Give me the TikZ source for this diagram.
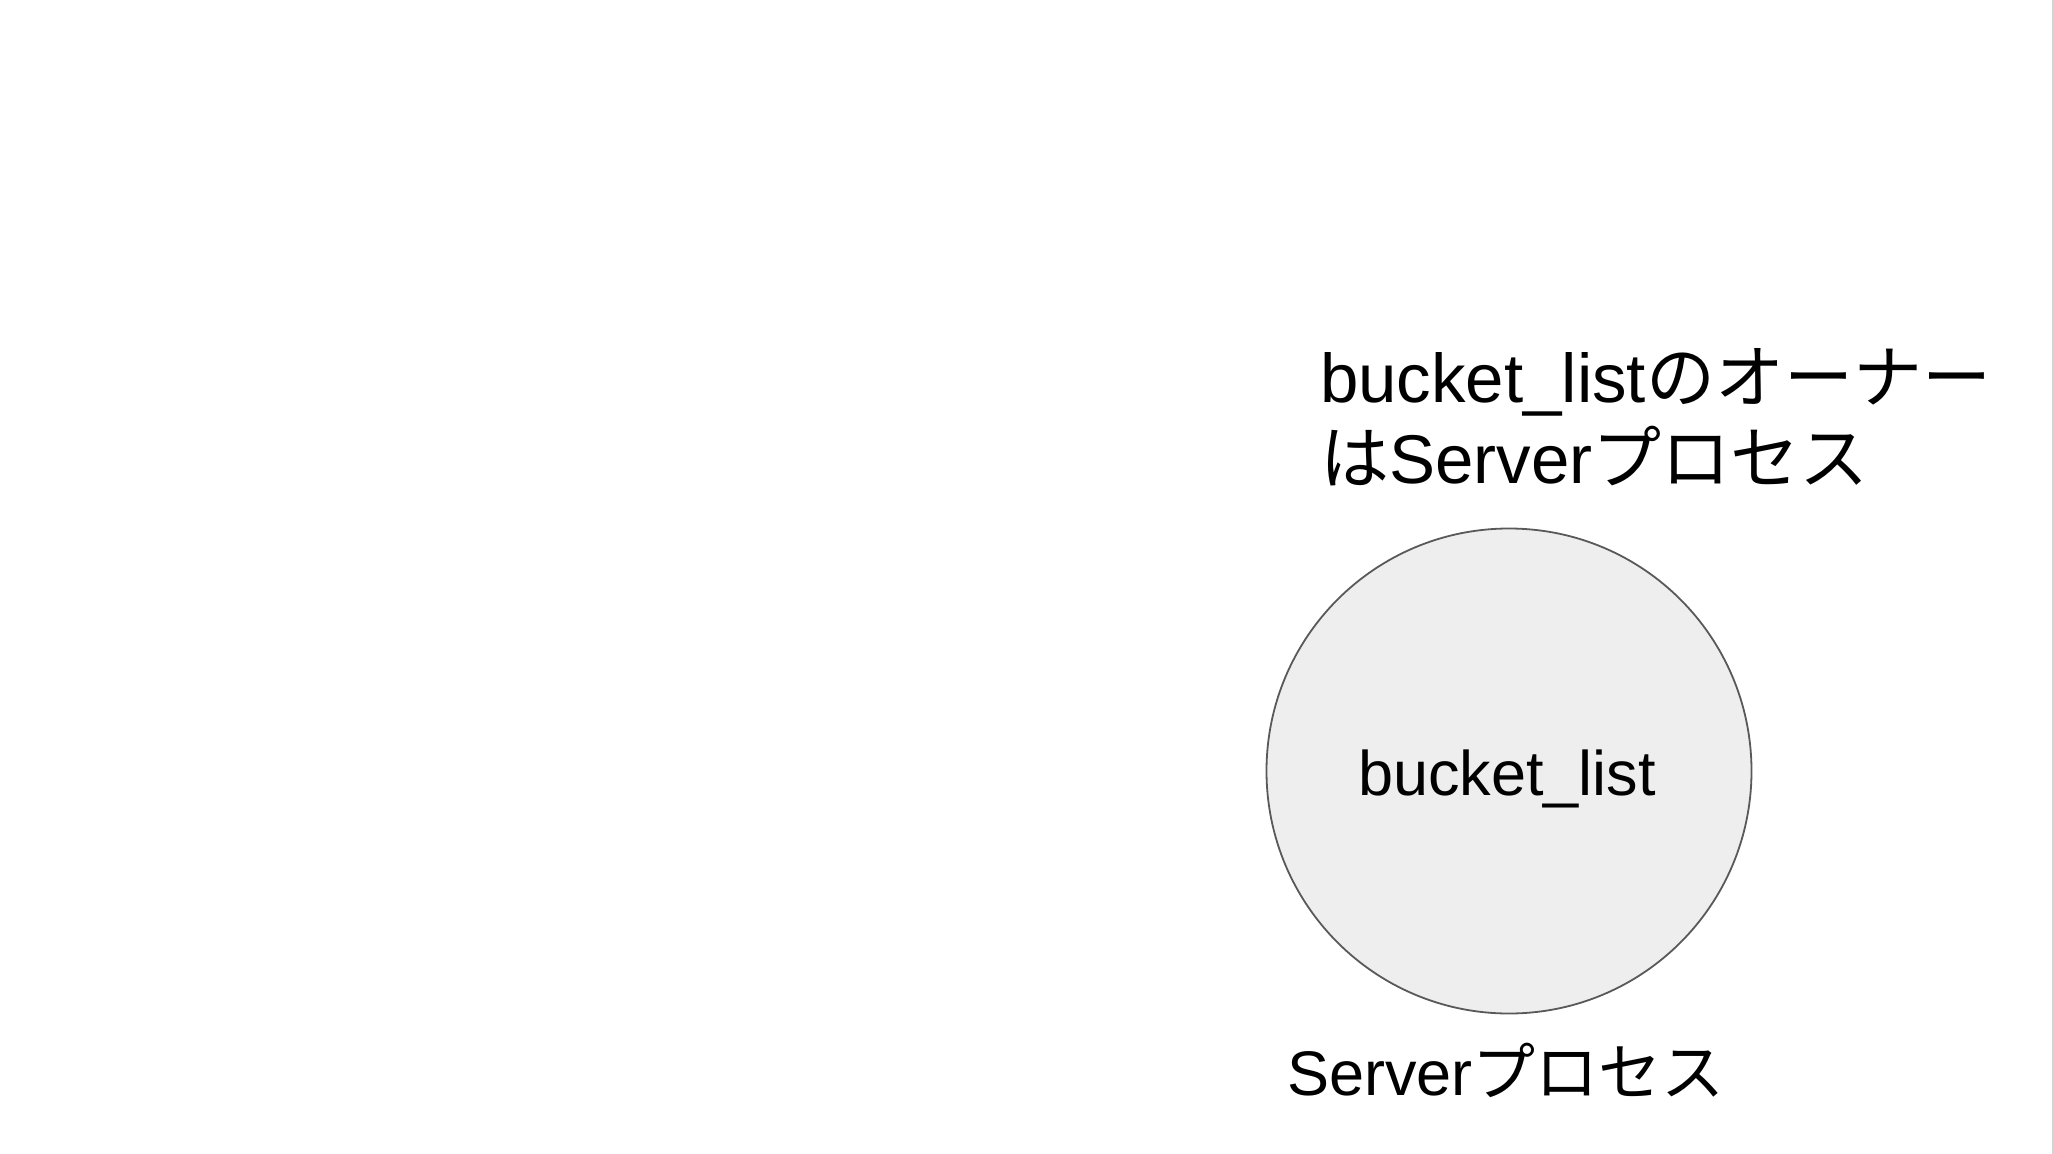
\documentclass[tikz,border=0pt]{standalone}
\usepackage{fontspec}
\setmainfont{Liberation Sans}
\newfontfamily\cjk{Noto Sans CJK JP}
\definecolor{circfill}{HTML}{EEEEEE}
\definecolor{circline}{HTML}{595959}
\definecolor{edgegray}{HTML}{D3D3D3}
\begin{document}
\begin{tikzpicture}[x=1pt,y=-1pt,
  bigtext/.style={inner sep=0pt, anchor=base west, font=\fontsize{69}{80}\selectfont},
  midtext/.style={inner sep=0pt, font=\fontsize{63}{74}\selectfont},
  bucket/.style={circle, draw=circline, line width=1.8pt, fill=circfill, minimum size=485pt, inner sep=0pt}]
  \useasboundingbox[fill=white] (0,0) rectangle (2054,1154);
  \fill[edgegray] (2052,0) rectangle (2054,1154);
  \node[bucket] (bl) at (1509,771) {};
  \node[midtext, anchor=base] (bltext) at (1507,795) {bucket\_list};
  \node[bigtext] (own1) at (1320,402) {bucket\_list{\cjk のオーナー}};
  \node[bigtext] (own2) at (1320,483) {{\cjk は}Server{\cjk プロセス}};
  \node[midtext, anchor=base west] (proc) at (1287,1095) {Server{\cjk プロセス}};
\end{tikzpicture}
\end{document}
